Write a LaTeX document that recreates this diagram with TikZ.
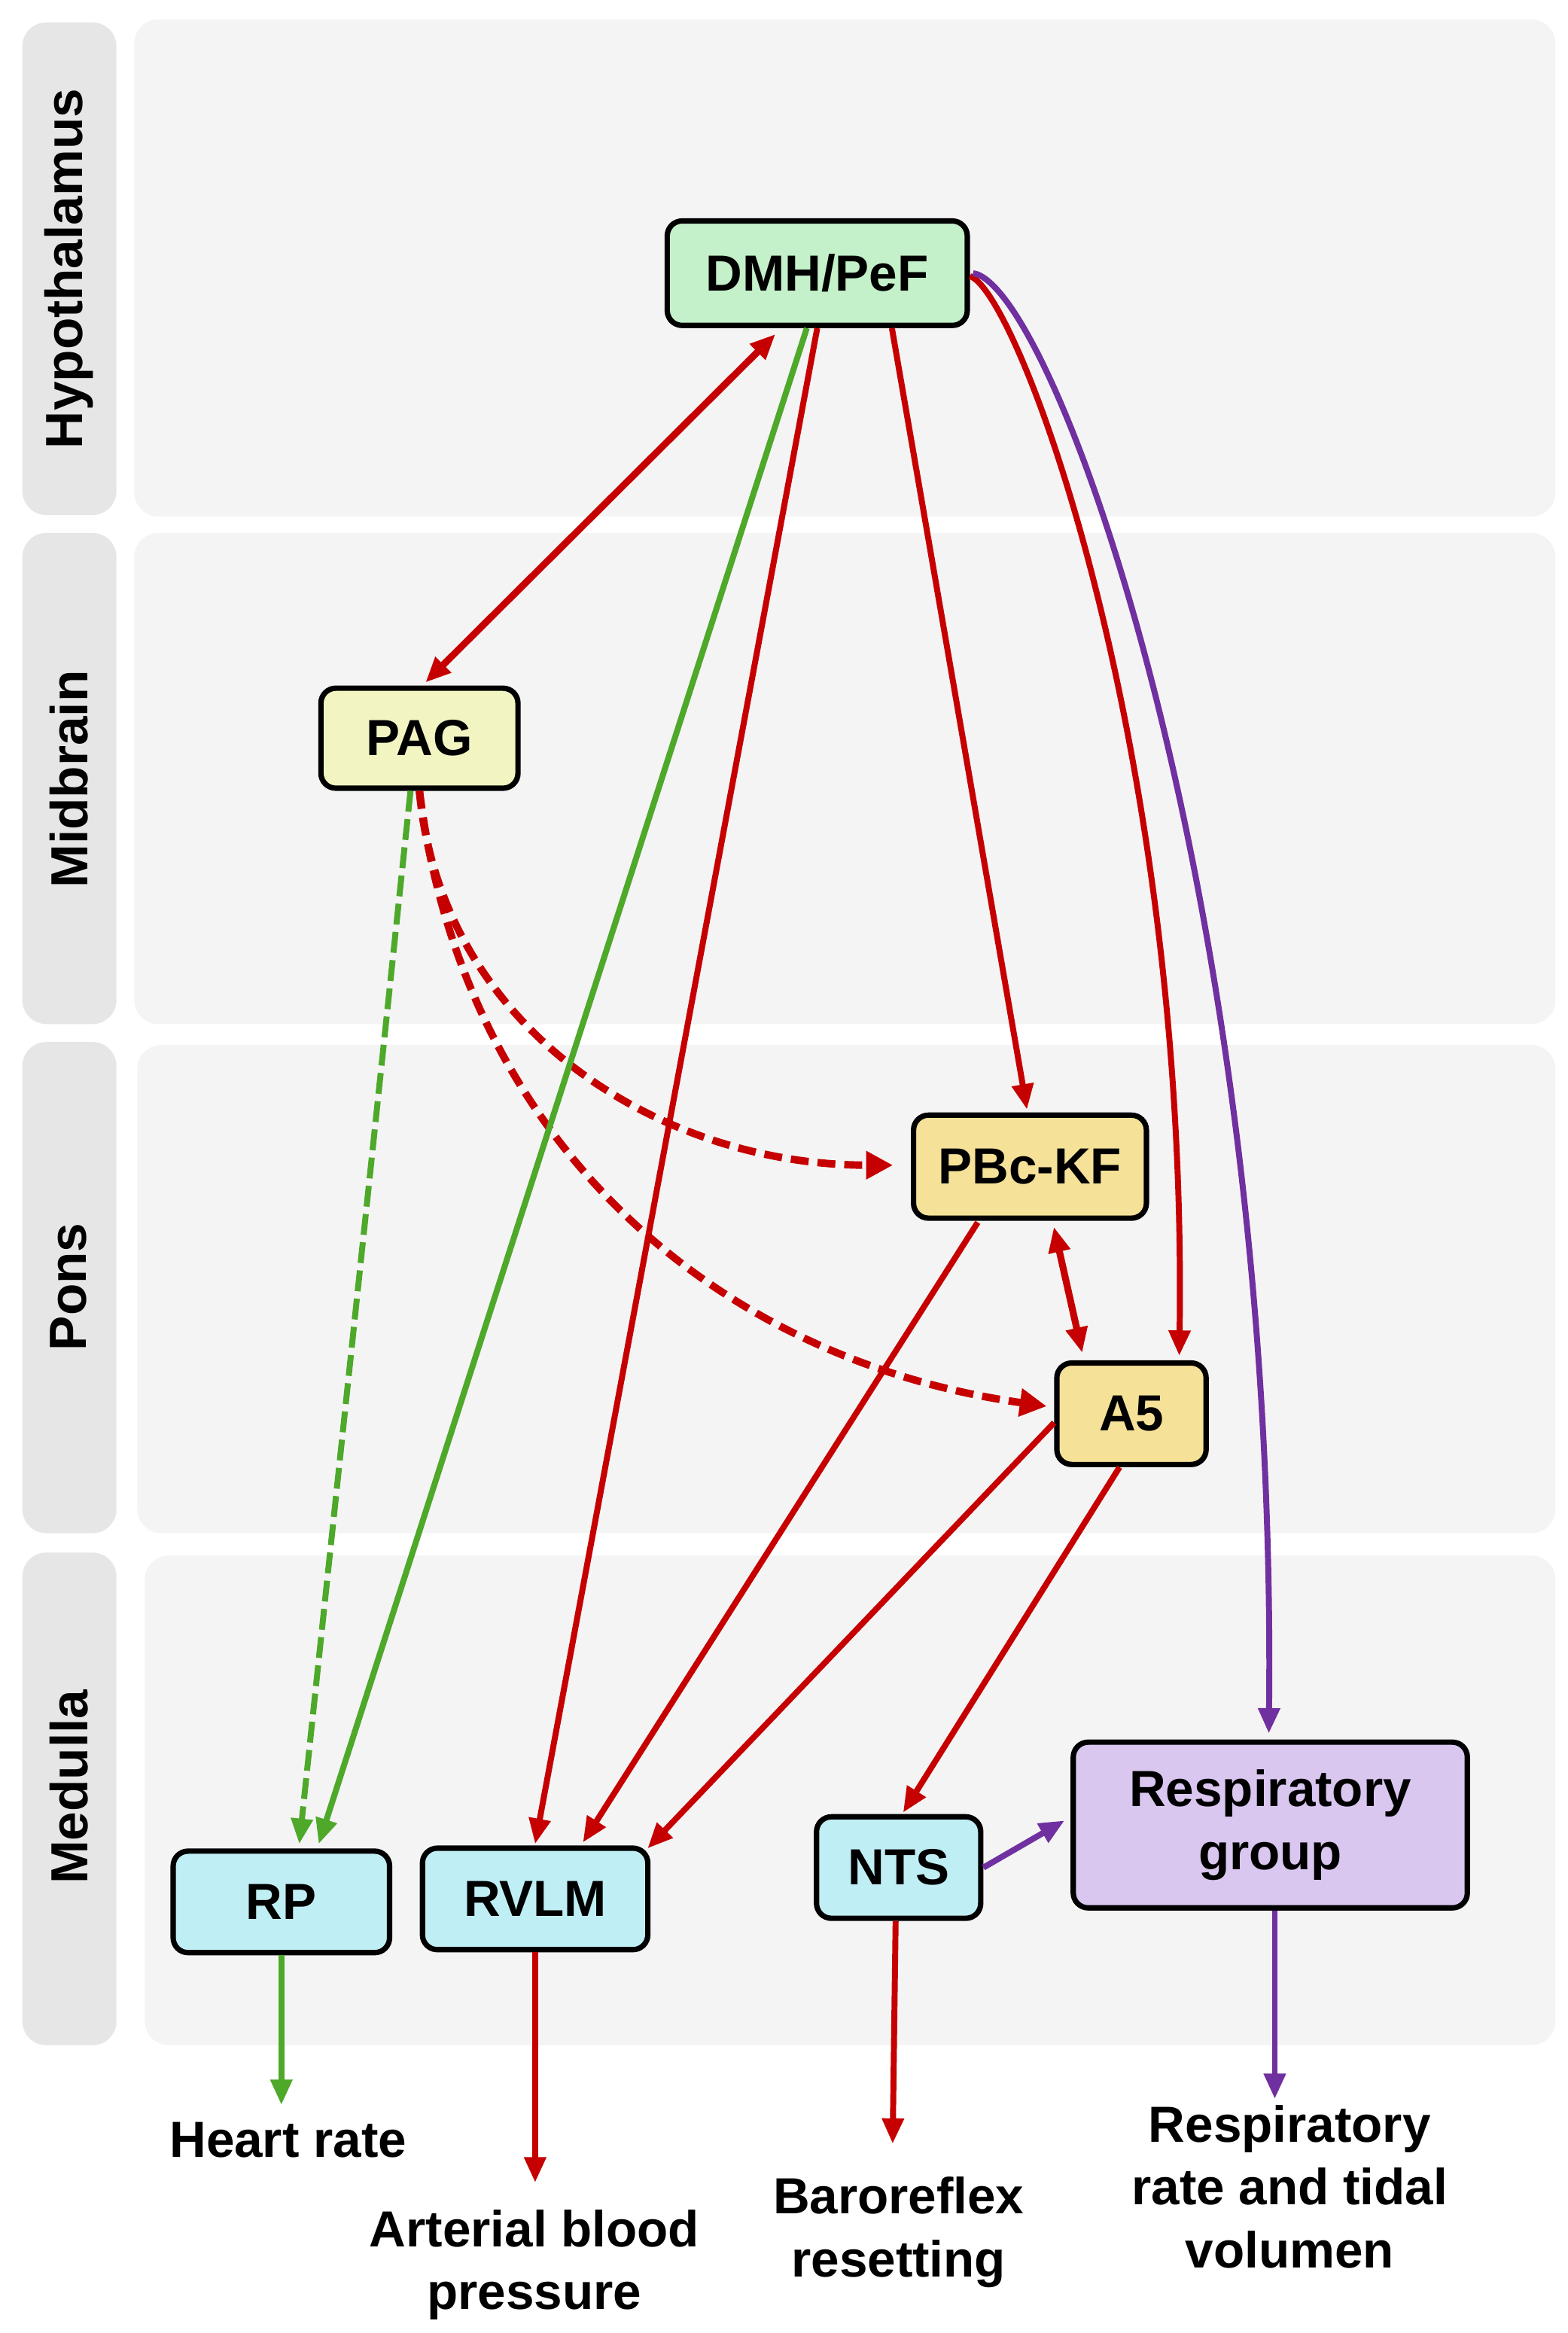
\documentclass[tikz,border=0pt]{standalone}
\usepackage{fontspec}
\setmainfont{Liberation Sans}
\usetikzlibrary{arrows.meta,calc}
\definecolor{cred}{RGB}{198,0,0}
\definecolor{cgreen}{RGB}{78,168,42}
\definecolor{cpurple}{RGB}{112,48,160}
\definecolor{fdmh}{RGB}{196,240,202}
\definecolor{fpag}{RGB}{242,244,194}
\definecolor{fpons}{RGB}{245,226,152}
\definecolor{fmed}{RGB}{192,238,245}
\definecolor{fresp}{RGB}{217,199,240}
\definecolor{panel}{RGB}{244,244,244}
\definecolor{band}{RGB}{230,230,230}
\begin{document}
\begin{tikzpicture}[x=0.5pt,y=-0.5pt,
  >={Triangle[length=8.5pt,width=7pt]},
  bigfont/.style={font=\fontsize{17}{21}\selectfont\bfseries},
  box/.style={draw=black, line width=1.8pt, rounded corners=5pt, bigfont, align=center, inner sep=0pt},
  panelbox/.style={fill=panel, draw=none, rounded corners=8pt},
  bandbox/.style={fill=band, draw=none, rounded corners=8pt},
  bandlabel/.style={rotate=90, font=\fontsize{17.5}{21}\selectfont\bfseries},
  outtext/.style={bigfont, align=center, inner sep=0pt, anchor=north},
  conn/.style={line width=2pt, ->},
  redc/.style={conn, draw=cred},
  greenc/.style={conn, draw=cgreen},
  purplec/.style={conn, draw=cpurple},
  dashc/.style={line width=2.5pt, dash pattern=on 6pt off 3pt, >={Triangle[length=9pt,width=9pt]}}
]
\useasboundingbox (0,0) rectangle (1050,1562.8);

% background bands
\fill[bandbox] (15,15) rectangle (78,345);
\fill[bandbox] (15,357) rectangle (78,686);
\fill[bandbox] (15,698) rectangle (78,1027);
\fill[bandbox] (15,1040) rectangle (78,1370);
\fill[panelbox] (90,13) rectangle (1042,346);
\fill[panelbox] (90,357) rectangle (1042,686);
\fill[panelbox] (92,700) rectangle (1042,1027);
\fill[panelbox] (97,1042) rectangle (1042,1370);

\node[bandlabel] (lhyp) at (46,180) {Hypothalamus};
\node[bandlabel] (lmid) at (46,522) {Midbrain};
\node[bandlabel] (lpons) at (46,862) {Pons};
\node[bandlabel] (lmed) at (46,1197) {Medulla};

% nodes
\node[box, fill=fdmh, minimum width=100.5pt, minimum height=35pt] (dmh) at (547.5,183) {DMH/PeF};
\node[box, fill=fpag, minimum width=66pt, minimum height=33.5pt] (pag) at (281,494.5) {PAG};
\node[box, fill=fpons, minimum width=78pt, minimum height=34.5pt] (pbc) at (690,781.5) {PBc-KF};
\node[box, fill=fpons, minimum width=50pt, minimum height=34pt] (a5) at (758,947) {A5};
\node[box, fill=fmed, minimum width=72.5pt, minimum height=34pt] (rp) at (188.5,1274) {RP};
\node[box, fill=fmed, minimum width=75.5pt, minimum height=34pt] (rvlm) at (358.5,1272) {RVLM};
\node[box, fill=fmed, minimum width=55pt, minimum height=34pt] (nts) at (602,1251) {NTS};
\node[box, fill=fresp, minimum width=132pt, minimum height=55.5pt] (resp) at (851,1222.5) {Respiratory\\group};

% output texts
\node[outtext] (hr) at (193,1421) {Heart rate};
\node[outtext] (abp) at (358,1480) {Arterial blood\\pressure};
\node[outtext] (baro) at (602,1458) {Baroreflex\\resetting};
\node[outtext] (rrt) at (864,1410) {Respiratory\\rate and tidal\\volumen};

% connectors from DMH/PeF
\draw[cred, line width=2.3pt, <->] ($(dmh.south)+(-28,4)$) -- ($(pag.north)+(4,-2)$);
\draw[redc] ($(dmh.south)+(0,0)$) -- ($(rvlm.north)+(0,-1)$);
\draw[redc] ($(dmh.south)+(50,0)$) -- ($(pbc.north)+(-2,-2)$);
\draw[redc] ($(dmh.east)+(0,2)$) .. controls (682,195) and (796,500) .. ($(a5.north)+(32,-3)$);
\draw[purplec] ($(dmh.east)+(2,0)$) .. controls (705,190) and (856,600) .. ($(resp.north)+(-1,-4)$);

% PAG connectors
\draw[cred, dashc, ->] (pag.south) to[out=-85,in=180] ($(pbc.west)+(-12,-1)$);
\draw[cred, dashc, ->] (pag.south) to[out=-83,in=172] ($(a5.west)+(-5,-5)$);

% pons
\draw[cred, line width=2.3pt, <->] ($(pbc.south)+(16,4)$) -- ($(a5.north)+(-33,-5)$);
\draw[redc] ($(pbc.south)+(-35,1)$) -- ($(rvlm.north)+(32,-2)$);
\draw[redc] ($(a5.west)+(0,6)$) -- ($(rvlm.north east)+(-2,2)$);
\draw[redc] ($(a5.south)+(-8,0)$) -- ($(nts.north)+(3,-1)$);

% green lines to RP (drawn on top)
\draw[cgreen, dashc, line width=2pt, dash pattern=on 7pt off 2.5pt, >={Triangle[length=8.5pt,width=7pt]}, ->] ($(pag.south)+(-6,0)$) -- ($(rp.north)+(12,-3)$);
\draw[greenc] ($(dmh.south)+(-7,0)$) -- ($(rp.north)+(25,-3)$);

% medulla
\draw[purplec] (nts.east) -- ($(resp.west)+(-4,-3)$);
\draw[greenc] (rp.south) -- ($(rp.south |- hr.north)+(0,-11)$);
\draw[redc] (rvlm.south) -- ($(rvlm.south |- abp.north)+(0,-18)$);
\draw[redc] ($(nts.south)+(-2,0)$) -- ($(nts.south |- baro.north)+(-4,-22)$);
\draw[purplec] ($(resp.south)+(3,0)$) -- ($(resp.south |- rrt.north)+(3,-4)$);
\end{tikzpicture}
\end{document}
